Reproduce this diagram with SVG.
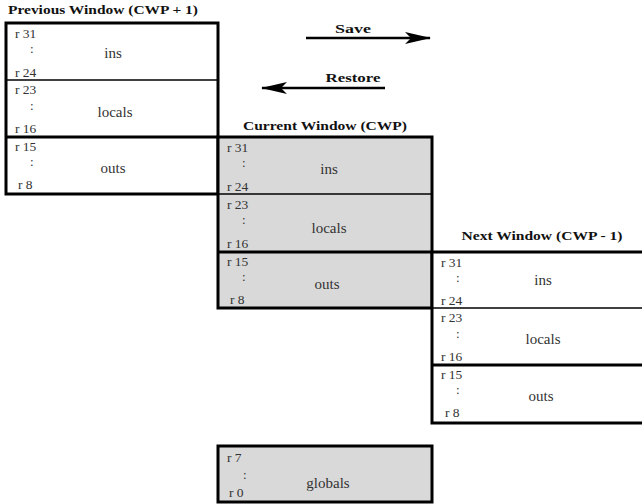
<svg xmlns="http://www.w3.org/2000/svg" width="642" height="504" viewBox="0 0 642 504">
<style>
text{font-family:'Liberation Serif','Times New Roman','DejaVu Serif',serif}
.title{font-weight:bold;font-size:13px;fill:#111}
.reg{font-size:13.5px;fill:#333}
.dots{font-size:13px;fill:#333}
.sec{font-size:15px;fill:#333;text-anchor:middle}
.box{stroke:#000;stroke-width:3}
.thin{stroke:#000;stroke-width:1.5}
.thick{stroke:#000;stroke-width:3}
.arrow{stroke:#000;stroke-width:2.5;fill:none}
</style>
<defs>
<marker id="ah" markerWidth="26" markerHeight="12" refX="25" refY="6" orient="auto" markerUnits="userSpaceOnUse" viewBox="0 0 26 12">
<path d="M0,0 L26,6 L0,12 L6,6 Z" fill="#000"/>
</marker>
</defs>
<rect width="642" height="504" fill="#fff"/>

<g id="previous-window">
<text class="title" x="8" y="14" textLength="190" lengthAdjust="spacingAndGlyphs">Previous Window (CWP + 1)</text>
<rect class="box" x="6" y="23" width="212" height="171" fill="#fff"/>
<line class="thin" x1="6" y1="80" x2="218" y2="80"/>
<line class="thick" x1="6" y1="137" x2="218" y2="137"/>
<text class="reg" x="15" y="38">r 31</text><text class="dots" x="30" y="53">:</text><text class="reg" x="15" y="77">r 24</text>
<text class="sec" x="113" y="58">ins</text>
<text class="reg" x="15" y="94">r 23</text><text class="dots" x="30" y="110">:</text><text class="reg" x="15" y="133">r 16</text>
<text class="sec" x="115" y="117">locals</text>
<text class="reg" x="15" y="151">r 15</text><text class="dots" x="30" y="166">:</text><text class="reg" x="18" y="189">r 8</text>
<text class="sec" x="113" y="173">outs</text>
</g>

<g id="current-window">
<text class="title" x="325" y="130" text-anchor="middle" textLength="164" lengthAdjust="spacingAndGlyphs">Current Window (CWP)</text>
<rect class="box" x="218" y="137" width="214" height="171" fill="#d9d9d9"/>
<line class="thin" x1="218" y1="194" x2="432" y2="194"/>
<line class="thick" x1="218" y1="252" x2="432" y2="252"/>
<text class="reg" x="227" y="152">r 31</text><text class="dots" x="242" y="167">:</text><text class="reg" x="227" y="191">r 24</text>
<text class="sec" x="329" y="174">ins</text>
<text class="reg" x="227" y="209">r 23</text><text class="dots" x="242" y="224">:</text><text class="reg" x="227" y="248">r 16</text>
<text class="sec" x="329" y="233">locals</text>
<text class="reg" x="227" y="266">r 15</text><text class="dots" x="242" y="281">:</text><text class="reg" x="230" y="304">r 8</text>
<text class="sec" x="327" y="289">outs</text>
</g>

<g id="next-window">
<text class="title" x="542" y="240" text-anchor="middle" textLength="161" lengthAdjust="spacingAndGlyphs">Next Window (CWP - 1)</text>
<rect class="box" x="432" y="252" width="214" height="171" fill="#fff"/>
<line class="thin" x1="432" y1="308" x2="646" y2="308"/>
<line class="thick" x1="432" y1="365" x2="646" y2="365"/>
<text class="reg" x="441" y="267">r 31</text><text class="dots" x="456" y="282">:</text><text class="reg" x="441" y="305">r 24</text>
<text class="sec" x="543" y="285">ins</text>
<text class="reg" x="441" y="322">r 23</text><text class="dots" x="456" y="338">:</text><text class="reg" x="441" y="361">r 16</text>
<text class="sec" x="543" y="344">locals</text>
<text class="reg" x="441" y="379">r 15</text><text class="dots" x="456" y="394">:</text><text class="reg" x="445" y="417">r 8</text>
<text class="sec" x="541" y="401">outs</text>
</g>

<g id="globals">
<rect class="box" x="218" y="446" width="214" height="56" fill="#d9d9d9"/>
<text class="reg" x="227" y="462">r 7</text><text class="dots" x="243" y="479">:</text><text class="reg" x="229" y="497">r 0</text>
<text class="sec" x="328" y="488">globals</text>
</g>

<g id="connectors">
<line class="arrow" x1="306" y1="38" x2="430" y2="38" marker-end="url(#ah)"/>
<text class="title" x="353" y="33" text-anchor="middle" textLength="36" lengthAdjust="spacingAndGlyphs">Save</text>
<line class="arrow" x1="385" y1="88" x2="262" y2="88" marker-end="url(#ah)"/>
<text class="title" x="353" y="82" text-anchor="middle" textLength="55" lengthAdjust="spacingAndGlyphs">Restore</text>
</g>
</svg>
